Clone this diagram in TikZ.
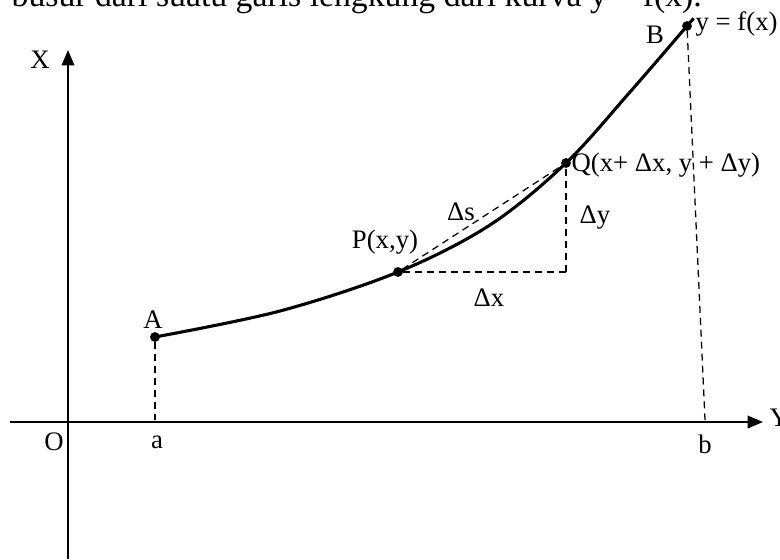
\documentclass[tikz,border=0pt]{standalone}
\usepackage{fontspec}
\setmainfont{Liberation Serif}
\usetikzlibrary{arrows.meta}

\tikzset{
  curve/.style={line width=2.2pt},
  axis/.style={line width=1.3pt},
  helper/.style={line width=0.9pt, dash pattern=on 5pt off 3.5pt},
  dot/.style={circle, fill=black, inner sep=0pt, minimum size=7pt},
  lbl/.style={font=\fontsize{19}{21}\selectfont, inner sep=1pt}
}

\begin{document}
\begin{tikzpicture}[x=0.025cm, y=-0.025cm, >={Triangle[length=11pt, width=9pt]}]

  % Frame (pixel coordinates of the page)
  \useasboundingbox (0,0) rectangle (780,559);
  \clip (0,0) rectangle (780,559);

  % Sentence cut at the top edge
  \node[lbl, font=\fontsize{24}{26}\selectfont, anchor=base west] (caption) at (10,6)
    {busur dari suatu garis lengkung dari kurva y = f(x).};

  % Axes
  \coordinate (O)   at (68,422);
  \coordinate (xl)  at (10,422);
  \coordinate (xr)  at (763,422);
  \coordinate (yb)  at (68,559);
  \coordinate (yt)  at (68,50);
  \draw[axis] (xl) -- (O);
  \draw[axis, ->] (O) -- (xr);
  \draw[axis] (yb) -- (O);
  \draw[axis, ->] (O) -- (yt);
  \node[lbl, anchor=west] (Ylab) at (768,418) {Y};
  \node[lbl] (Xlab) at (40,60) {X};
  \node[lbl] (Olab) at (54,442) {O};

  % Points on the curve
  \node[dot] (A) at (155,337) {};
  \node[dot] (P) at (398,272) {};
  \node[dot] (Q) at (566,163) {};
  \node[dot] (B) at (687,26) {};
  \coordinate (tip) at (693,19);

  % The curve y = f(x)
  \draw[curve] plot[smooth, tension=0.55] coordinates
    {(A.center) (280,311) (P.center) (490,225) (Q.center) (630,92) (B.center) (tip)};

  % Feet on the axis
  \coordinate (a) at (155,420);
  \coordinate (b) at (705,420);
  \coordinate (R) at (566,272);
  \draw[helper] (A) -- (a);
  \draw[helper] (B) -- (b);

  % Triangle P, R, Q
  \draw[helper] (P) -- (Q);
  \draw[helper] (P) -- (R);
  \draw[helper] (R) -- (Q);

  % Labels
  \node[lbl] (alab) at (157,442) {a};
  \node[lbl] (blab) at (705,444) {b};
  \node[lbl] (Alab) at (153,320) {A};
  \node[lbl] (Blab) at (655,35) {B};
  \node[lbl, anchor=west] (flab) at (694,24) {y = f(x)};
  \node[lbl] (Plab) at (385,242) {P(x,y)};
  \node[lbl, anchor=west] (Qlab) at (570,165) {Q(x+ Δx, y + Δy)};
  \node[lbl] (dslab) at (461,212) {Δs};
  \node[lbl] (dylab) at (595,218) {Δy};
  \node[lbl] (dxlab) at (489,298) {Δx};

\end{tikzpicture}
\end{document}
